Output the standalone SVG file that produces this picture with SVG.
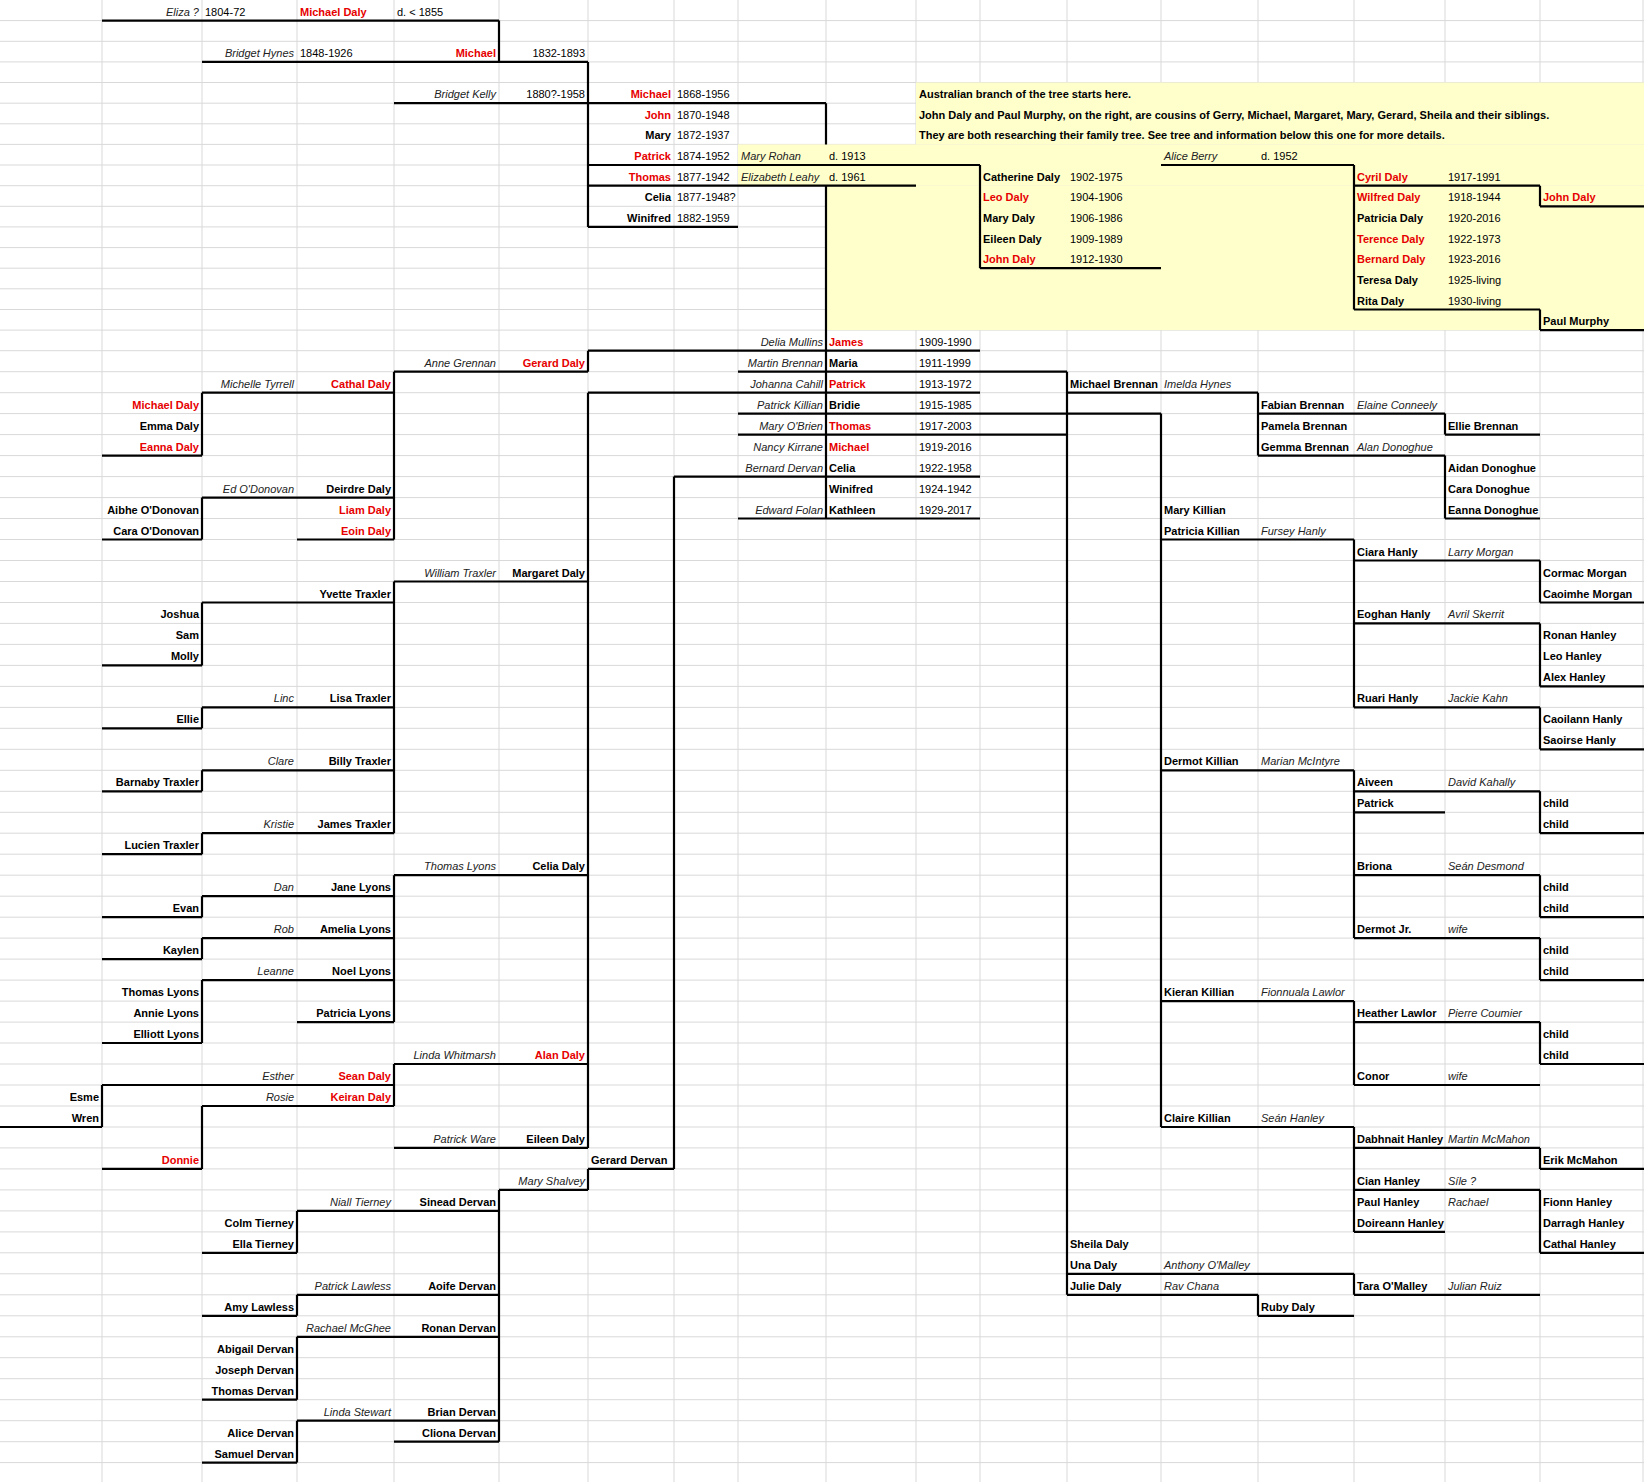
<svg xmlns="http://www.w3.org/2000/svg" width="1644" height="1482" viewBox="0 0 1644 1482">
<style>
text{font-family:"Liberation Sans",Arial,sans-serif;font-size:11px;fill:#000}
.n{font-weight:bold}
.r{font-weight:bold;fill:#e60000}
.s{font-style:italic;fill:#222}
.e{text-anchor:end}
.g{stroke:#d9d9d9;stroke-width:1;fill:none}
.k{stroke:#000;stroke-width:2.2;fill:none}
</style>
<rect width="1644" height="1482" fill="#fff"/>
<g id="grid">
<path class="g" d="M102 0V1482M202 0V1482M297 0V1482M394 0V1482M499 0V1482M588 0V1482M674 0V1482M738 0V1482M826 0V1482M916 0V1482M980 0V1482M1067 0V1482M1161 0V1482M1258 0V1482M1354 0V1482M1445 0V1482M1540 0V1482M1643 0V1482
M0 20.6H1644M0 41.3H1644M0 61.9H1644M0 82.5H1644M0 103.2H1644M0 123.8H1644M0 144.4H1644M0 165H1644M0 185.7H1644M0 206.3H1644M0 226.9H1644M0 247.6H1644M0 268.2H1644M0 288.8H1644M0 309.5H1644M0 330.1H1644M0 350.7H1644
M0 371.7H1644M0 392.7H1644M0 413.6H1644M0 434.6H1644M0 455.6H1644M0 476.6H1644M0 497.6H1644M0 518.5H1644M0 539.5H1644M0 560.5H1644M0 581.5H1644M0 602.5H1644M0 623.4H1644M0 644.4H1644M0 665.4H1644M0 686.4H1644M0 707.4H1644M0 728.3H1644M0 749.3H1644M0 770.3H1644M0 791.3H1644M0 812.3H1644M0 833.2H1644M0 854.2H1644M0 875.2H1644M0 896.2H1644M0 917.2H1644M0 938.1H1644M0 959.1H1644M0 980.1H1644M0 1001.1H1644M0 1022.1H1644M0 1043H1644M0 1064H1644M0 1085H1644M0 1106H1644M0 1127H1644M0 1147.9H1644M0 1168.9H1644M0 1189.9H1644M0 1210.9H1644M0 1231.9H1644M0 1252.8H1644M0 1273.8H1644M0 1294.8H1644M0 1315.8H1644M0 1336.8H1644M0 1357.7H1644M0 1378.7H1644M0 1399.7H1644M0 1420.7H1644M0 1441.7H1644M0 1462.6H1644"/>
</g>
<g id="note-area" fill="#ffffcc">
<rect x="916" y="82.5" width="728" height="61.9"/>
<rect x="738" y="144.4" width="906" height="41.3"/>
<rect x="826" y="185.7" width="818" height="144.4"/>
</g>
<g id="connectors">
<path class="k" d="M102 20.6H499M202 61.9H588M394 103.2H826M588 165H980M588 185.7H916M588 226.9H738M1161 165H1354M1354 185.7H1540M1540 206.3H1644M980 268.2H1161M1354 309.5H1540M1540 330.1H1644
M588 350.7H980M394 371.7H588M738 371.7H1067M588 392.7H980M202 392.7H394M1067 392.7H1258M738 413.6H1161M1258 413.6H1445M738 434.6H1067M1445 434.6H1540M102 455.6H202M1258 455.6H1445M674 476.6H980M202 497.6H394M738 518.5H980M1445 518.5H1540M102 539.5H202M297 539.5H394M1161 539.5H1354M1354 560.5H1540M394 581.5H588M202 602.5H394M1540 602.5H1644M1354 623.4H1540M102 665.4H202M1540 686.4H1644M202 707.4H394M1354 707.4H1540M102 728.3H202M1540 749.3H1644M202 770.3H394M1161 770.3H1354M102 791.3H202M1354 791.3H1540M1354 812.3H1445M202 833.2H394M1540 833.2H1644M102 854.2H202
M394 875.2H588M1354 875.2H1540M202 896.2H394M102 917.2H202M1540 917.2H1644M202 938.1H394M1354 938.1H1540M102 959.1H202M202 980.1H394M1540 980.1H1644M1161 1001.1H1354M1354 1022.1H1540M297 1022.1H394M102 1043H202M394 1064H588M1540 1064H1644M102 1085H394M1354 1085H1540M202 1106H394M0 1127H102M1161 1127H1354M394 1147.9H588M1354 1147.9H1540M102 1168.9H202M588 1168.9H674M1540 1168.9H1644M499 1189.9H588M1354 1189.9H1540M297 1210.9H499M1354 1231.9H1445M202 1252.8H297M1540 1252.8H1644M1067 1273.8H1354M297 1294.8H499M1067 1294.8H1258M1354 1294.8H1540M202 1315.8H297M1258 1315.8H1354M297 1336.8H499M202 1399.7H297M297 1420.7H499M394 1441.7H499M202 1462.6H297
M499 20.6V61.9M588 61.9V226.9M826 103.2V144.4M826 185.7V518.5M980 165V268.2M1354 165V309.5M1540 185.7V206.3M1540 309.5V330.1
M588 350.7V371.7M588 392.7V1147.9M394 371.7V539.5M202 392.7V455.6M202 497.6V539.5M394 581.5V833.2M202 602.5V665.4M202 707.4V728.3M202 770.3V791.3M202 833.2V854.2M1067 371.7V1294.8M1161 413.6V1127M1258 392.7V455.6M1445 413.6V434.6M1445 455.6V518.5M674 476.6V1168.9M1354 539.5V707.4M1540 560.5V602.5M1540 623.4V686.4M1540 707.4V749.3M1354 770.3V938.1M1540 791.3V833.2M1540 875.2V917.2M1540 938.1V980.1M394 875.2V1022.1M202 896.2V917.2M202 938.1V959.1M202 980.1V1043M394 1064V1106M102 1085V1127M202 1106V1168.9M1354 1001.1V1085M1540 1022.1V1064M1354 1127V1231.9M1540 1147.9V1168.9M1540 1189.9V1252.8M588 1168.9V1189.9M499 1189.9V1441.7M297 1210.9V1252.8M297 1294.8V1315.8M297 1336.8V1399.7M297 1420.7V1462.6M1354 1273.8V1294.8M1258 1294.8V1315.8"/>
</g>
<g id="top">
<text class="s e" x="199" y="15.6">Eliza ?</text><text x="205" y="15.6">1804-72</text><text class="r" x="300" y="15.6">Michael Daly</text><text x="397" y="15.6">d. &lt; 1855</text>
<text class="s e" x="294" y="56.9">Bridget Hynes</text><text x="300" y="56.9">1848-1926</text><text class="r e" x="496" y="56.9">Michael</text><text class="e" x="585" y="56.9">1832-1893</text>
<text class="s e" x="496" y="98.2">Bridget Kelly</text><text class="e" x="585" y="98.2">1880?-1958</text><text class="r e" x="671" y="98.2">Michael</text><text x="677" y="98.2">1868-1956</text>
<text class="r e" x="671" y="118.8">John</text><text x="677" y="118.8">1870-1948</text>
<text class="n e" x="671" y="139.4">Mary</text><text x="677" y="139.4">1872-1937</text>
<text class="r e" x="671" y="160">Patrick</text><text x="677" y="160">1874-1952</text><text class="s" x="741" y="160">Mary Rohan</text><text x="829" y="160">d. 1913</text>
<text class="r e" x="671" y="180.7">Thomas</text><text x="677" y="180.7">1877-1942</text><text class="s" x="741" y="180.7">Elizabeth Leahy</text><text x="829" y="180.7">d. 1961</text>
<text class="n e" x="671" y="201.3">Celia</text><text x="677" y="201.3">1877-1948?</text>
<text class="n e" x="671" y="221.9">Winifred</text><text x="677" y="221.9">1882-1959</text>
</g>
<g id="note">
<text class="n" x="919" y="98.2">Australian branch of the tree starts here.</text>
<text class="n" x="919" y="118.8">John Daly and Paul Murphy, on the right, are cousins of Gerry, Michael, Margaret, Mary, Gerard, Sheila and their siblings.</text>
<text class="n" x="919" y="139.4">They are both researching their family tree. See tree and information below this one for more details.</text>
</g>
<g id="australia">
<text class="s" x="1164" y="160">Alice Berry</text><text x="1261" y="160">d.  1952</text>
<text class="n" x="983" y="180.7">Catherine Daly</text><text x="1070" y="180.7">1902-1975</text>
<text class="r" x="983" y="201.3">Leo Daly</text><text x="1070" y="201.3">1904-1906</text>
<text class="n" x="983" y="221.9">Mary Daly</text><text x="1070" y="221.9">1906-1986</text>
<text class="n" x="983" y="242.6">Eileen Daly</text><text x="1070" y="242.6">1909-1989</text>
<text class="r" x="983" y="263.2">John Daly</text><text x="1070" y="263.2">1912-1930</text>
<text class="r" x="1357" y="180.7">Cyril Daly</text><text x="1448" y="180.7">1917-1991</text>
<text class="r" x="1357" y="201.3">Wilfred Daly</text><text x="1448" y="201.3">1918-1944</text>
<text class="n" x="1357" y="221.9">Patricia Daly</text><text x="1448" y="221.9">1920-2016</text>
<text class="r" x="1357" y="242.6">Terence Daly</text><text x="1448" y="242.6">1922-1973</text>
<text class="r" x="1357" y="263.2">Bernard Daly</text><text x="1448" y="263.2">1923-2016</text>
<text class="n" x="1357" y="283.8">Teresa Daly</text><text x="1448" y="283.8">1925-living</text>
<text class="n" x="1357" y="304.5">Rita Daly</text><text x="1448" y="304.5">1930-living</text>
<text class="r" x="1543" y="201.3">John Daly</text>
<text class="n" x="1543" y="325.1">Paul Murphy</text>
</g>
<g id="generation-1909">
<text class="s e" x="823" y="345.7">Delia Mullins</text><text class="r" x="829" y="345.7">James</text><text x="919" y="345.7">1909-1990</text>
<text class="s e" x="823" y="366.7">Martin Brennan</text><text class="n" x="829" y="366.7">Maria</text><text x="919" y="366.7">1911-1999</text>
<text class="s e" x="823" y="387.7">Johanna Cahill</text><text class="r" x="829" y="387.7">Patrick</text><text x="919" y="387.7">1913-1972</text>
<text class="s e" x="823" y="408.6">Patrick Killian</text><text class="n" x="829" y="408.6">Bridie</text><text x="919" y="408.6">1915-1985</text>
<text class="s e" x="823" y="429.6">Mary O'Brien</text><text class="r" x="829" y="429.6">Thomas</text><text x="919" y="429.6">1917-2003</text>
<text class="s e" x="823" y="450.6">Nancy Kirrane</text><text class="r" x="829" y="450.6">Michael</text><text x="919" y="450.6">1919-2016</text>
<text class="s e" x="823" y="471.6">Bernard Dervan</text><text class="n" x="829" y="471.6">Celia</text><text x="919" y="471.6">1922-1958</text>
<text class="n" x="829" y="492.6">Winifred</text><text x="919" y="492.6">1924-1942</text>
<text class="s e" x="823" y="513.5">Edward Folan</text><text class="n" x="829" y="513.5">Kathleen</text><text x="919" y="513.5">1929-2017</text>
</g>
<g id="left-tree">
<text class="s e" x="496" y="366.7">Anne Grennan</text><text class="r e" x="585" y="366.7">Gerard Daly</text>
<text class="s e" x="294" y="387.7">Michelle Tyrrell</text><text class="r e" x="391" y="387.7">Cathal Daly</text>
<text class="r e" x="199" y="408.6">Michael Daly</text>
<text class="n e" x="199" y="429.6">Emma Daly</text>
<text class="r e" x="199" y="450.6">Eanna Daly</text>
<text class="s e" x="294" y="492.6">Ed O'Donovan</text><text class="n e" x="391" y="492.6">Deirdre Daly</text>
<text class="n e" x="199" y="513.5">Aibhe O'Donovan</text><text class="r e" x="391" y="513.5">Liam Daly</text>
<text class="n e" x="199" y="534.5">Cara O'Donovan</text><text class="r e" x="391" y="534.5">Eoin Daly</text>
<text class="s e" x="496" y="576.5">William Traxler</text><text class="n e" x="585" y="576.5">Margaret Daly</text>
<text class="n e" x="391" y="597.5">Yvette Traxler</text>
<text class="n e" x="199" y="618.4">Joshua</text>
<text class="n e" x="199" y="639.4">Sam</text>
<text class="n e" x="199" y="660.4">Molly</text>
<text class="s e" x="294" y="702.4">Linc</text><text class="n e" x="391" y="702.4">Lisa Traxler</text>
<text class="n e" x="199" y="723.3">Ellie</text>
<text class="s e" x="294" y="765.3">Clare</text><text class="n e" x="391" y="765.3">Billy Traxler</text>
<text class="n e" x="199" y="786.3">Barnaby Traxler</text>
<text class="s e" x="294" y="828.2">Kristie</text><text class="n e" x="391" y="828.2">James Traxler</text>
<text class="n e" x="199" y="849.2">Lucien Traxler</text>
<text class="s e" x="496" y="870.2">Thomas Lyons</text><text class="n e" x="585" y="870.2">Celia Daly</text>
<text class="s e" x="294" y="891.2">Dan</text><text class="n e" x="391" y="891.2">Jane Lyons</text>
<text class="n e" x="199" y="912.2">Evan</text>
<text class="s e" x="294" y="933.1">Rob</text><text class="n e" x="391" y="933.1">Amelia Lyons</text>
<text class="n e" x="199" y="954.1">Kaylen</text>
<text class="s e" x="294" y="975.1">Leanne</text><text class="n e" x="391" y="975.1">Noel Lyons</text>
<text class="n e" x="199" y="996.1">Thomas Lyons</text>
<text class="n e" x="199" y="1017.1">Annie Lyons</text><text class="n e" x="391" y="1017.1">Patricia Lyons</text>
<text class="n e" x="199" y="1038">Elliott Lyons</text>
<text class="s e" x="496" y="1059">Linda Whitmarsh</text><text class="r e" x="585" y="1059">Alan Daly</text>
<text class="s e" x="294" y="1080">Esther</text><text class="r e" x="391" y="1080">Sean Daly</text>
<text class="n e" x="99" y="1101">Esme</text><text class="s e" x="294" y="1101">Rosie</text><text class="r e" x="391" y="1101">Keiran Daly</text>
<text class="n e" x="99" y="1122">Wren</text>
<text class="s e" x="496" y="1142.9">Patrick Ware</text><text class="n e" x="585" y="1142.9">Eileen Daly</text>
<text class="r e" x="199" y="1163.9">Donnie</text><text class="n" x="591" y="1163.9">Gerard Dervan</text>
<text class="s e" x="585" y="1184.9">Mary Shalvey</text>
<text class="s e" x="391" y="1205.9">Niall Tierney</text><text class="n e" x="496" y="1205.9">Sinead Dervan</text>
<text class="n e" x="294" y="1226.9">Colm Tierney</text>
<text class="n e" x="294" y="1247.8">Ella Tierney</text>
<text class="s e" x="391" y="1289.8">Patrick Lawless</text><text class="n e" x="496" y="1289.8">Aoife Dervan</text>
<text class="n e" x="294" y="1310.8">Amy Lawless</text>
<text class="s e" x="391" y="1331.8">Rachael McGhee</text><text class="n e" x="496" y="1331.8">Ronan Dervan</text>
<text class="n e" x="294" y="1352.7">Abigail Dervan</text>
<text class="n e" x="294" y="1373.7">Joseph Dervan</text>
<text class="n e" x="294" y="1394.7">Thomas Dervan</text>
<text class="s e" x="391" y="1415.7">Linda Stewart</text><text class="n e" x="496" y="1415.7">Brian Dervan</text>
<text class="n e" x="294" y="1436.7">Alice Dervan</text><text class="n e" x="496" y="1436.7">Cliona Dervan</text>
<text class="n e" x="294" y="1457.6">Samuel Dervan</text>
</g>
<g id="right-tree">
<text class="n" x="1070" y="387.7">Michael Brennan</text><text class="s" x="1164" y="387.7">Imelda Hynes</text>
<text class="n" x="1261" y="408.6">Fabian Brennan</text><text class="s" x="1357" y="408.6">Elaine Conneely</text>
<text class="n" x="1261" y="429.6">Pamela Brennan</text><text class="n" x="1448" y="429.6">Ellie Brennan</text>
<text class="n" x="1261" y="450.6">Gemma Brennan</text><text class="s" x="1357" y="450.6">Alan Donoghue</text>
<text class="n" x="1448" y="471.6">Aidan Donoghue</text>
<text class="n" x="1448" y="492.6">Cara Donoghue</text>
<text class="n" x="1164" y="513.5">Mary Killian</text><text class="n" x="1448" y="513.5">Eanna Donoghue</text>
<text class="n" x="1164" y="534.5">Patricia Killian</text><text class="s" x="1261" y="534.5">Fursey Hanly</text>
<text class="n" x="1357" y="555.5">Ciara Hanly</text><text class="s" x="1448" y="555.5">Larry Morgan</text>
<text class="n" x="1543" y="576.5">Cormac Morgan</text>
<text class="n" x="1543" y="597.5">Caoimhe Morgan</text>
<text class="n" x="1357" y="618.4">Eoghan Hanly</text><text class="s" x="1448" y="618.4">Avril Skerrit</text>
<text class="n" x="1543" y="639.4">Ronan Hanley</text>
<text class="n" x="1543" y="660.4">Leo Hanley</text>
<text class="n" x="1543" y="681.4">Alex Hanley</text>
<text class="n" x="1357" y="702.4">Ruari Hanly</text><text class="s" x="1448" y="702.4">Jackie Kahn</text>
<text class="n" x="1543" y="723.3">Caoilann Hanly</text>
<text class="n" x="1543" y="744.3">Saoirse Hanly</text>
<text class="n" x="1164" y="765.3">Dermot Killian</text><text class="s" x="1261" y="765.3">Marian McIntyre</text>
<text class="n" x="1357" y="786.3">Aiveen</text><text class="s" x="1448" y="786.3">David Kahally</text>
<text class="n" x="1357" y="807.3">Patrick</text><text class="n" x="1543" y="807.3">child</text>
<text class="n" x="1543" y="828.2">child</text>
<text class="n" x="1357" y="870.2">Briona</text><text class="s" x="1448" y="870.2">Seán  Desmond</text>
<text class="n" x="1543" y="891.2">child</text>
<text class="n" x="1543" y="912.2">child</text>
<text class="n" x="1357" y="933.1">Dermot Jr.</text><text class="s" x="1448" y="933.1">wife</text>
<text class="n" x="1543" y="954.1">child</text>
<text class="n" x="1543" y="975.1">child</text>
<text class="n" x="1164" y="996.1">Kieran Killian</text><text class="s" x="1261" y="996.1">Fionnuala Lawlor</text>
<text class="n" x="1357" y="1017.1">Heather Lawlor</text><text class="s" x="1448" y="1017.1">Pierre Coumier</text>
<text class="n" x="1543" y="1038">child</text>
<text class="n" x="1543" y="1059">child</text>
<text class="n" x="1357" y="1080">Conor</text><text class="s" x="1448" y="1080">wife</text>
<text class="n" x="1164" y="1122">Claire Killian</text><text class="s" x="1261" y="1122">Seán  Hanley</text>
<text class="n" x="1357" y="1142.9">Dabhnait Hanley</text><text class="s" x="1448" y="1142.9">Martin McMahon</text>
<text class="n" x="1543" y="1163.9">Erik McMahon</text>
<text class="n" x="1357" y="1184.9">Cian Hanley</text><text class="s" x="1448" y="1184.9">Síle  ?</text>
<text class="n" x="1357" y="1205.9">Paul Hanley</text><text class="s" x="1448" y="1205.9">Rachael</text><text class="n" x="1543" y="1205.9">Fionn Hanley</text>
<text class="n" x="1357" y="1226.9">Doireann Hanley</text><text class="n" x="1543" y="1226.9">Darragh Hanley</text>
<text class="n" x="1070" y="1247.8">Sheila Daly</text><text class="n" x="1543" y="1247.8">Cathal Hanley</text>
<text class="n" x="1070" y="1268.8">Una Daly</text><text class="s" x="1164" y="1268.8">Anthony O'Malley</text>
<text class="n" x="1070" y="1289.8">Julie Daly</text><text class="s" x="1164" y="1289.8">Rav Chana</text><text class="n" x="1357" y="1289.8">Tara O'Malley</text><text class="s" x="1448" y="1289.8">Julian Ruiz</text>
<text class="n" x="1261" y="1310.8">Ruby Daly</text>
</g>
</svg>
